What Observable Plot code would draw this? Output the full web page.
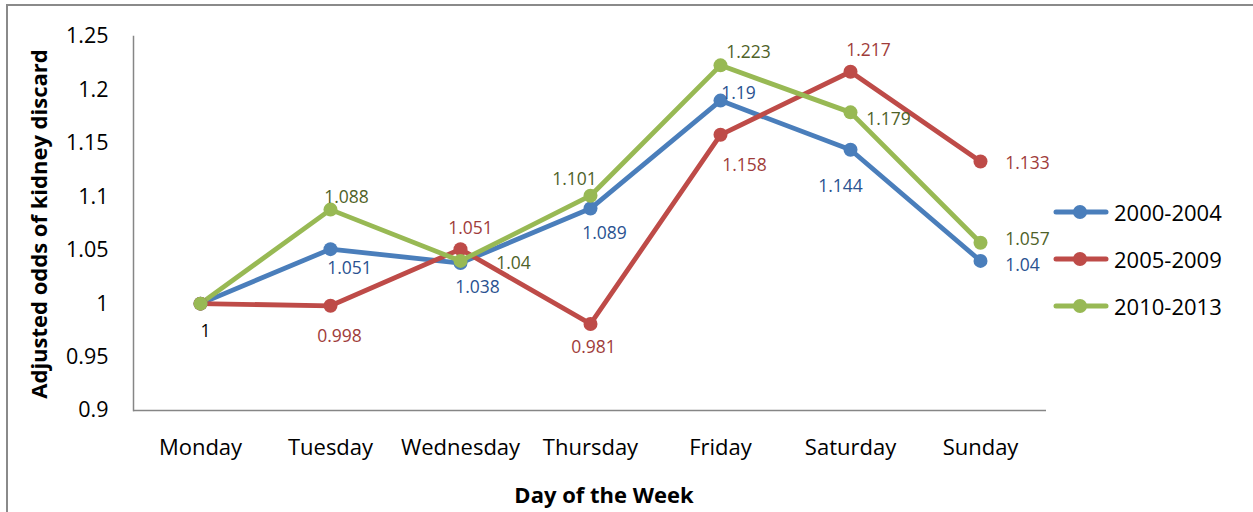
<!DOCTYPE html>
<html>
<head>
<meta charset="utf-8">
<script src="https://cdn.jsdelivr.net/npm/d3@7"></script>
<script src="https://cdn.jsdelivr.net/npm/@observablehq/plot@0.6"></script>
<style>
  body { margin: 0; background: #fff; }
  #wrap { position: relative; width: 1253px; height: 512px; overflow: hidden; font-family: "Open Sans", sans-serif; color: #000; }
  #frame { position: absolute; left: 6px; top: 4px; width: 1300px; height: 600px; border-left: 2px solid #8a8a8a; border-top: 2px solid #8a8a8a; pointer-events: none; }
  #legend { position: absolute; left: 1053px; top: 188px; }
  .lg { display: flex; align-items: center; height: 47px; font-size: 22px; }
  .lg svg { margin-right: 5px; }
  .title { position: absolute; font-weight: bold; white-space: nowrap; line-height: 1; }
  #xtitle { left: 604px; top: 494px; font-size: 22px; transform: translate(-50%, -50%); }
  #ytitle { left: 38px; top: 224px; font-size: 22px; transform: translate(-50%, -50%) rotate(-90deg); }
</style>
</head>
<body>
<div id="wrap"><div id="chart"></div><div id="frame"></div><div id="legend"></div>
<div class="title" id="xtitle"></div><div class="title" id="ytitle"></div></div>
<script>
// ---- data ----
const days = ["Monday", "Tuesday", "Wednesday", "Thursday", "Friday", "Saturday", "Sunday"];
const seriesNames = ["2000-2004", "2005-2009", "2010-2013"];
const s2000 = [1, 1.051, 1.038, 1.089, 1.19, 1.144, 1.04];
const s2005 = [1, 0.998, 1.051, 0.981, 1.158, 1.217, 1.133];
const s2010 = [1, 1.088, 1.04, 1.101, 1.223, 1.179, 1.057];
const yTicks = [0.9, 0.95, 1, 1.05, 1.1, 1.15, 1.2, 1.25];
const xTitle = "Day of the Week";
const yTitle = "Adjusted odds of kidney discard";

// ---- styles ----
const lineColors = ["#4A7EBB", "#BE4B48", "#98B954"];
const labelColors = ["#2A5290", "#A03C3A", "#4F6228"];
// label offsets [dx, dy] from the point (null = no label)
const labelOffsets = [
  [[5, 28], [19, 19], [17, 24], [14, 25], [18, -7], [-10, 37], [42, 4]],
  [null, [9, 31], [10, -21], [3, 23], [24, 31], [18, -21], [47, 2]],
  [null, [16, -12], [53, 2], [-16, -16], [28, -13], [38, 7], [47, -3]]
];

const values = [s2000, s2005, s2010];
const rows = [];
seriesNames.forEach((s, i) => days.forEach((d, j) => rows.push({series: s, idx: i, day: d, value: values[i][j], j})));

const labelMarks = [];
rows.forEach(r => {
  const off = labelOffsets[r.idx][r.j];
  if (!off) return;
  const isMonday = r.j === 0;
  labelMarks.push(Plot.text([r], {
    x: "day", y: "value", text: d => String(d.value),
    dx: off[0], dy: off[1], fontSize: 17.5,
    fill: isMonday ? "#000" : labelColors[r.idx]
  }));
});

const chart = Plot.plot({
  width: 1253,
  height: 512,
  marginLeft: 133,
  marginRight: 207,
  marginTop: 36,
  marginBottom: 102,
  style: {fontFamily: "'Open Sans', sans-serif", color: "#000", background: "transparent"},
  x: {type: "point", domain: days, padding: 0.5},
  y: {domain: [0.9, 1.25]},
  marks: [
    Plot.axisY({ticks: yTicks, tickSize: 0, tickPadding: 25, fontSize: 21.5, tickFormat: d => String(+d.toFixed(2)), label: null}),
    Plot.axisX({tickSize: 0, tickPadding: 29, fontSize: 22, label: null}),
    Plot.ruleY([0.9], {stroke: "#868686", strokeWidth: 1.5}),
    Plot.frame({anchor: "left", stroke: "#868686", strokeWidth: 1.5}),
    ...seriesNames.map((s, i) => Plot.line(rows.filter(r => r.idx === i), {x: "day", y: "value", stroke: lineColors[i], strokeWidth: 4.8, strokeLinejoin: "round"})),
    ...seriesNames.map((s, i) => Plot.dot(rows.filter(r => r.idx === i), {x: "day", y: "value", fill: lineColors[i], r: 7})),
    ...labelMarks
  ]
});
document.getElementById("chart").appendChild(chart);
document.getElementById("xtitle").textContent = xTitle;
document.getElementById("ytitle").textContent = yTitle;

// legend
const legend = document.getElementById("legend");
seriesNames.forEach((s, i) => {
  const row = document.createElement("div");
  row.className = "lg";
  row.innerHTML = `<svg width="56" height="16"><line x1="3" y1="8" x2="53" y2="8" stroke="${lineColors[i]}" stroke-width="5" stroke-linecap="round"/><circle cx="27" cy="8" r="7" fill="${lineColors[i]}"/></svg><span>${s}</span>`;
  legend.appendChild(row);
});
</script>
</body>
</html>
